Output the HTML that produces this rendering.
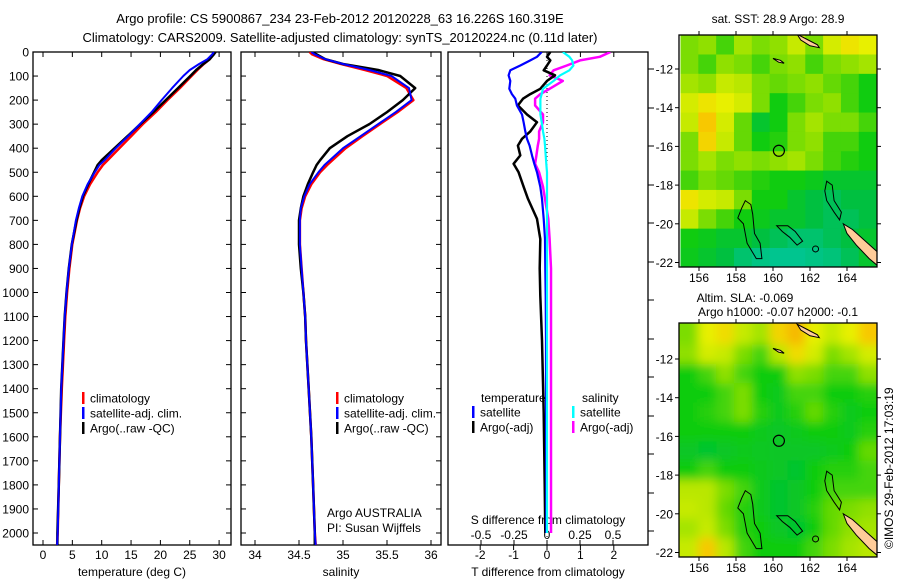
<!DOCTYPE html>
<html><head><meta charset="utf-8"><title>Argo profile</title>
<style>
html,body{margin:0;padding:0;background:#fff;}
svg{display:block;font-family:"Liberation Sans",sans-serif;}
text{fill:#000;}
</style></head>
<body>
<svg id="fig" width="900" height="580" viewBox="0 0 900 580" xmlns="http://www.w3.org/2000/svg">
<defs>
<clipPath id="clipP1"><rect x="33" y="52" width="198" height="493"/></clipPath>
<clipPath id="clipP2"><rect x="241" y="52" width="200" height="493"/></clipPath>
<clipPath id="clipP3"><rect x="448" y="52" width="200" height="493"/></clipPath>
<clipPath id="clipM1"><rect x="679" y="35" width="198" height="232"/></clipPath>
<clipPath id="clipM2"><rect x="679" y="323" width="198" height="234"/></clipPath>
<filter id="blurF" x="-10%" y="-10%" width="120%" height="120%"><feGaussianBlur stdDeviation="5"/></filter>
</defs>
<text x="340" y="23" font-size="13" text-anchor="middle">Argo profile: CS 5900867_234 23-Feb-2012 20120228_63 16.226S 160.319E</text>
<text x="340" y="42" font-size="13" text-anchor="middle">Climatology: CARS2009. Satellite-adjusted climatology: synTS_20120224.nc (0.11d later)</text>
<g id="g1"></g>
<g id="g2"></g>
<g id="g3"></g>
<g id="m1"></g>
<g id="m2"></g>
<text transform="translate(893,549) rotate(-90)" font-size="12">©IMOS 29-Feb-2012 17:03:19</text>
</svg>
<script>
// ---- profile data ----
const depths = [0,10,30,50,75,100,150,200,250,300,350,400,450,470,500,550,600,650,700,800,900,1000,1100,1200,1400,1600,1800,2000,2050];
const tempClim = [29.3,29.0,28.4,27.4,26.3,25.3,23.3,21.2,19.2,17.0,15.0,13.0,11.0,10.2,9.3,8.0,7.0,6.3,5.8,5.0,4.5,4.1,3.8,3.6,3.2,2.9,2.7,2.5,2.4];
const tempSat = [29.1,28.8,28.0,26.6,25.0,23.9,22.0,20.2,18.5,16.5,14.5,12.4,10.5,9.6,8.8,7.6,6.7,6.1,5.6,4.9,4.4,4.0,3.7,3.5,3.1,2.9,2.7,2.5,2.4];
const tempArgo = [29.4,29.1,28.4,27.3,26.1,25.1,23.0,20.9,18.8,16.6,14.4,12.2,10.0,9.3,8.7,7.7,6.8,6.2,5.7,4.9,4.4,4.0,3.7,3.5,3.1,2.9,2.7,2.45,2.45];
const salClim = [34.62,34.65,34.78,34.98,35.25,35.5,35.72,35.8,35.62,35.42,35.22,35.03,34.88,34.82,34.74,34.64,34.57,34.53,34.51,34.51,34.53,34.55,34.57,34.58,34.61,34.64,34.66,34.68,34.69];
const salSat = [34.64,34.68,34.8,35.0,35.3,35.55,35.75,35.78,35.6,35.4,35.2,35.0,34.85,34.79,34.72,34.62,34.56,34.52,34.51,34.51,34.53,34.55,34.57,34.58,34.61,34.64,34.66,34.68,34.69];
const salArgo = [34.65,34.7,34.8,35.0,35.4,35.65,35.82,35.68,35.5,35.3,35.05,34.85,34.74,34.7,34.66,34.6,34.55,34.52,34.5,34.5,34.52,34.55,34.57,34.58,34.61,34.64,34.66,34.68,34.68];
const diffDepths = [0,20,35,56,76,97,120,153,175,194,222,260,292,330,361,389,430,465,500,560,611,694,778,900,1014,1200,1500,1800,2000];
const dTempArgo = [0.1,0.0,0.1,0.0,-0.1,0.24,0.0,-0.2,-0.5,-0.72,-0.87,-0.6,-0.3,-0.5,-0.75,-0.87,-0.8,-1.0,-0.85,-0.7,-0.57,-0.3,-0.2,-0.22,-0.2,-0.15,-0.1,-0.07,-0.05];
const dTempSat = [-0.16,-0.3,-0.5,-0.8,-1.1,-1.15,-1.1,-1.13,-1.05,-0.95,-0.9,-0.75,-0.7,-0.65,-0.6,-0.52,-0.45,-0.38,-0.3,-0.2,-0.15,-0.1,-0.06,-0.05,-0.04,-0.03,-0.03,-0.02,-0.02];
const dSalArgo = [0.48,0.4,0.25,0.15,0.05,0.02,0.12,0.02,-0.05,-0.09,-0.09,-0.03,-0.03,-0.06,-0.06,-0.07,-0.08,-0.09,-0.06,-0.03,-0.015,0.01,0.02,0.03,0.03,0.03,0.03,0.03,0.03];
const dSalSat = [0.12,0.17,0.19,0.2,0.17,0.1,0.05,-0.03,-0.04,-0.05,-0.05,-0.05,-0.04,-0.03,-0.02,-0.015,-0.01,-0.005,0,0,0,0,0,0,0,0,0,0,0];
const depthTicks = [0,100,200,300,400,500,600,700,800,900,1000,1100,1200,1300,1400,1500,1600,1700,1800,1900,2000];
const tempTicks = [0,5,10,15,20,25,30];
const salTicks = [34,34.5,35,35.5,36];
const salTickLabels = ["34","34.5","35","35.5","36"];
const tdTicks = [-2,-1,0,1,2];
const sdTicks = [-0.5,-0.25,0,0.25,0.5];
const sdTickLabels = ["-0.5","-0.25","0","0.25","0.5"];
// ---- map data (rows: lat -10.25 .. -22.25 by 1 deg; cols: lon 155 .. 165.6) ----
const sstGrid = [
[0.6,0.62,0.55,0.65,0.6,0.62,0.7,0.6,0.72,0.78,0.75],
[0.6,0.55,0.62,0.6,0.55,0.6,0.62,0.55,0.6,0.62,0.65],
[0.65,0.62,0.7,0.68,0.6,0.58,0.6,0.62,0.58,0.55,0.5],
[0.72,0.78,0.75,0.72,0.6,0.5,0.55,0.6,0.62,0.55,0.5],
[0.7,0.85,0.72,0.58,0.45,0.5,0.6,0.65,0.6,0.6,0.55],
[0.6,0.82,0.7,0.58,0.5,0.52,0.6,0.62,0.55,0.55,0.5],
[0.6,0.65,0.6,0.62,0.6,0.62,0.65,0.6,0.55,0.52,0.5],
[0.55,0.6,0.58,0.55,0.52,0.5,0.5,0.48,0.45,0.45,0.45],
[0.78,0.72,0.7,0.6,0.5,0.5,0.45,0.42,0.4,0.42,0.42],
[0.7,0.6,0.55,0.5,0.48,0.45,0.45,0.42,0.4,0.4,0.42],
[0.5,0.48,0.45,0.45,0.42,0.4,0.38,0.38,0.4,0.42,0.45],
[0.48,0.45,0.42,0.38,0.36,0.35,0.35,0.36,0.37,0.4,0.45]];
const slaGrid = [
[0.6,0.75,0.8,0.7,0.65,0.82,0.88,0.75,0.7,0.75,0.85],
[0.62,0.72,0.7,0.6,0.55,0.68,0.8,0.72,0.6,0.65,0.72],
[0.5,0.55,0.62,0.55,0.5,0.5,0.62,0.6,0.55,0.55,0.62],
[0.5,0.5,0.55,0.6,0.5,0.48,0.55,0.55,0.5,0.5,0.52],
[0.5,0.52,0.55,0.6,0.52,0.48,0.52,0.58,0.52,0.48,0.5],
[0.5,0.5,0.5,0.5,0.48,0.46,0.48,0.5,0.5,0.48,0.52],
[0.46,0.45,0.46,0.48,0.47,0.46,0.46,0.46,0.48,0.5,0.58],
[0.5,0.55,0.5,0.5,0.48,0.46,0.45,0.5,0.52,0.52,0.55],
[0.68,0.68,0.6,0.55,0.48,0.45,0.46,0.5,0.55,0.55,0.55],
[0.7,0.68,0.58,0.52,0.48,0.45,0.46,0.52,0.58,0.6,0.62],
[0.65,0.7,0.6,0.52,0.5,0.46,0.45,0.5,0.58,0.62,0.65],
[0.7,0.85,0.68,0.55,0.5,0.5,0.5,0.55,0.6,0.65,0.68]];
const lonTicks = [156,158,160,162,164];
const latTicks = [-12,-14,-16,-18,-20,-22];

const NS = "http://www.w3.org/2000/svg";
function mk(parent, tag, attrs, txt) {
  const e = document.createElementNS(NS, tag);
  for (const k in attrs) e.setAttribute(k, attrs[k]);
  if (txt !== undefined) e.textContent = txt;
  parent.appendChild(e);
  return e;
}
const yD = d => 52 + d * 0.2405;
const TOP = 52, BOT = 545;

function frame(g, x0, x1, name) {
  const r = mk(g, 'rect', {x:x0, y:TOP, width:x1-x0, height:BOT-TOP, fill:'none', stroke:'#000', 'stroke-width':1.3});
  
  
}
function depthTickMarks(g, x0, x1, labels) {
  depthTicks.forEach(d => {
    const y = yD(d);
    mk(g, 'line', {x1:x0, y1:y, x2:x0+5, y2:y, stroke:'#000'});
    mk(g, 'line', {x1:x1, y1:y, x2:x1-5, y2:y, stroke:'#000'});
    if (labels) {
      const t = mk(g, 'text', {x:x0-4, y:y+4.5, 'font-size':12, 'text-anchor':'end'}, String(d));
      
      
    }
  });
}
function series(g, ys, xs, xf, color, w, name, clip) {
  const pts = ys.map((d,i) => xf(xs[i]).toFixed(1) + ',' + yD(d).toFixed(1)).join(' ');
  const p = mk(g, 'polyline', {points:pts, fill:'none', stroke:color, 'stroke-width':w, 'clip-path':'url(#'+clip+')', 'stroke-linejoin':'round'});
  
  
}
function legend(g, x, y, color, label, name) {
  const lg = mk(g, 'g', {});
  
  
  mk(lg, 'rect', {x:x, y:y-6, width:2.5, height:12, fill:color});
  mk(lg, 'text', {x:x+8, y:y+4.5, 'font-size':12}, label);
}

// Panel 1 temperature
const g1 = document.getElementById('g1');
const xT = v => 43 + v * 5.87;
frame(g1, 33, 231, 'temperature-frame');
depthTickMarks(g1, 33, 231, true);
tempTicks.forEach(v => {
  mk(g1, 'line', {x1:xT(v), y1:BOT, x2:xT(v), y2:BOT-5, stroke:'#000'});
  mk(g1, 'line', {x1:xT(v), y1:TOP, x2:xT(v), y2:TOP+5, stroke:'#000'});
  const t = mk(g1, 'text', {x:xT(v), y:559, 'font-size':12, 'text-anchor':'middle'}, String(v));
  
  
});
(function(){const t = mk(g1, 'text', {x:132, y:576, 'font-size':12, 'text-anchor':'middle'}, 'temperature (deg C)');

})();
series(g1, depths, tempClim, xT, '#ff0000', 2.5, 'temperature-climatology-line', 'clipP1');
series(g1, depths, tempArgo, xT, '#000000', 2.5, 'temperature-argo-line', 'clipP1');
series(g1, depths, tempSat, xT, '#0000ff', 2, 'temperature-satellite-line', 'clipP1');
legend(g1, 82, 398, '#ff0000', 'climatology', 'legend-climatology');
legend(g1, 82, 413, '#0000ff', 'satellite-adj. clim.', 'legend-satellite');
legend(g1, 82, 428, '#000000', 'Argo(..raw -QC)', 'legend-argo');

// Panel 2 salinity
const g2 = document.getElementById('g2');
const xS = v => 255 + (v - 34) * 88;
frame(g2, 241, 441, 'salinity-frame');
depthTickMarks(g2, 241, 441, false);
salTicks.forEach((v,i) => {
  mk(g2, 'line', {x1:xS(v), y1:BOT, x2:xS(v), y2:BOT-5, stroke:'#000'});
  mk(g2, 'line', {x1:xS(v), y1:TOP, x2:xS(v), y2:TOP+5, stroke:'#000'});
  const t = mk(g2, 'text', {x:xS(v), y:559, 'font-size':12, 'text-anchor':'middle'}, salTickLabels[i]);
  
  
});
(function(){const t = mk(g2, 'text', {x:341, y:576, 'font-size':12, 'text-anchor':'middle'}, 'salinity');

})();
series(g2, depths, salClim, xS, '#ff0000', 2.5, 'salinity-climatology-line', 'clipP2');
series(g2, depths, salArgo, xS, '#000000', 2.5, 'salinity-argo-line', 'clipP2');
series(g2, depths, salSat, xS, '#0000ff', 2, 'salinity-satellite-line', 'clipP2');
legend(g2, 336, 398, '#ff0000', 'climatology', 'legend-climatology-2');
legend(g2, 336, 413, '#0000ff', 'satellite-adj. clim.', 'legend-satellite-2');
legend(g2, 336, 428, '#000000', 'Argo(..raw -QC)', 'legend-argo-2');
(function(){
const t1 = mk(g2, 'text', {x:327, y:517, 'font-size':12}, 'Argo AUSTRALIA');


const t2 = mk(g2, 'text', {x:327, y:532, 'font-size':12}, 'PI: Susan Wijffels');

})();

// Panel 3 differences
const g3 = document.getElementById('g3');
const xTD = v => 547 + v * 33.4;
const xSD = v => 547 + v * 132;
frame(g3, 448, 648, 'difference-frame');
mk(g3, 'line', {x1:547, y1:TOP, x2:547, y2:BOT, stroke:'#000', 'stroke-dasharray':'1,3'});
[69,108,146,185,223,262,300,339,377,416,454,493,531].forEach(y => {
  mk(g3, 'line', {x1:648, y1:y, x2:654, y2:y, stroke:'#000'});
});
tdTicks.forEach(v => {
  mk(g3, 'line', {x1:xTD(v), y1:BOT, x2:xTD(v), y2:BOT+5, stroke:'#000'});
  mk(g3, 'line', {x1:xTD(v), y1:TOP, x2:xTD(v), y2:TOP+5, stroke:'#000'});
  const t = mk(g3, 'text', {x:xTD(v), y:559, 'font-size':12, 'text-anchor':'middle'}, String(v));
  
  
});
sdTicks.forEach((v,i) => {
  mk(g3, 'line', {x1:xSD(v), y1:BOT, x2:xSD(v), y2:BOT-5, stroke:'#000'});
  const t = mk(g3, 'text', {x:xSD(v), y:539, 'font-size':12, 'text-anchor':'middle'}, sdTickLabels[i]);
  
  
});
(function(){
const t1 = mk(g3, 'text', {x:548, y:576, 'font-size':12, 'text-anchor':'middle'}, 'T difference from climatology');


const t2 = mk(g3, 'text', {x:548, y:524, 'font-size':12, 'text-anchor':'middle'}, 'S difference from climatology');

})();
series(g3, diffDepths, dSalArgo, xSD, '#ff00ff', 2.5, 'sdiff-argo-line', 'clipP3');
series(g3, diffDepths, dTempArgo, xTD, '#000000', 2.5, 'tdiff-argo-line', 'clipP3');
series(g3, diffDepths, dTempSat, xTD, '#0000ff', 2.2, 'tdiff-satellite-line', 'clipP3');
series(g3, diffDepths, dSalSat, xSD, '#00ffff', 2.2, 'sdiff-satellite-line', 'clipP3');
(function(){
const t1 = mk(g3, 'text', {x:481, y:402, 'font-size':12}, 'temperature');


const t2 = mk(g3, 'text', {x:582, y:402, 'font-size':12}, 'salinity');

})();
legend(g3, 472, 412, '#0000ff', 'satellite', 'legend-tdiff-satellite');
legend(g3, 472, 427, '#000000', 'Argo(-adj)', 'legend-tdiff-argo');
legend(g3, 572, 412, '#00ffff', 'satellite', 'legend-sdiff-satellite');
legend(g3, 572, 427, '#ff00ff', 'Argo(-adj)', 'legend-sdiff-argo');

// ---- maps ----
const cstops = [[0,[0,0,140]],[0.15,[0,80,255]],[0.3,[0,200,200]],[0.42,[0,192,64]],[0.5,[16,204,16]],[0.62,[144,224,0]],[0.75,[232,240,0]],[0.85,[248,200,0]],[1,[240,120,0]]];
function cmap(v) {
  for (let i=1;i<cstops.length;i++) {
    if (v <= cstops[i][0]) {
      const a = cstops[i-1], b = cstops[i], f = (v-a[0])/(b[0]-a[0]);
      const c = a[1].map((x,k)=>Math.round(x+(b[1][k]-x)*f));
      return 'rgb('+c.join(',')+')';
    }
  }
  return 'rgb(240,120,0)';
}
function drawMap(gid, grid, y12, top, bot, clipId, blur, name) {
  const g = document.getElementById(gid);
  const xL = lon => 699 + (lon - 156) * 18.5;
  const yL = lat => y12 + (-12 - lat) * 19.35;
  const cg = mk(g, 'g', {'clip-path':'url(#'+clipId+')'});
  const inner = mk(cg, 'g', blur ? {filter:'url(#blurF)'} : {});
  const ncol = grid[0].length, nrow = grid.length;
  const lon0 = 155, dlon = 10.6 / ncol, lat0 = -10.25;
  grid.forEach((row, r) => row.forEach((v, c) => {
    const x0 = xL(lon0 + c*dlon), x1 = xL(lon0 + (c+1)*dlon);
    const ya = yL(lat0 - r), yb = yL(lat0 - r - 1);
    const pad = blur ? 12 : 0;
    const ex = c === 0 ? pad : 0, ex2 = c === ncol-1 ? pad : 0;
    const ey = r === 0 ? pad : 0, ey2 = r === nrow-1 ? pad : 0;
    const cell = mk(inner, 'rect', {x:x0-ex, y:ya-ey, width:x1-x0+0.6+ex+ex2, height:yb-ya+0.6+ey+ey2, fill:cmap(v)});
    
    
  }));
  const P = pts => pts.map(p => xL(p[0]).toFixed(1)+','+yL(p[1]).toFixed(1)).join(' ');
  mk(cg, 'polygon', {points:P([[161.3,-10.2],[161.8,-10.45],[162.4,-10.75],[162.5,-10.9],[162.0,-10.8],[161.5,-10.5]]), fill:'#ffcc99', stroke:'#000', 'stroke-width':1});
  mk(cg, 'polygon', {points:P([[160.0,-11.45],[160.4,-11.55],[160.6,-11.7],[160.3,-11.65]]), fill:'#ffcc99', stroke:'#000', 'stroke-width':1});
  mk(cg, 'polygon', {points:P([[163.8,-20.0],[164.3,-20.3],[165.0,-20.9],[165.7,-21.5],[165.7,-22.2],[165.2,-21.8],[164.5,-21.1],[164.0,-20.5]]), fill:'#ffcc99', stroke:'#000', 'stroke-width':1});
  mk(cg, 'polygon', {points:P([[158.5,-18.8],[158.8,-19.0],[158.9,-19.5],[159.0,-20.5],[159.3,-21.0],[159.4,-21.8],[159.1,-21.8],[158.6,-21.0],[158.4,-20.0],[158.1,-19.7],[158.3,-19.2]]), fill:'none', stroke:'#000', 'stroke-width':1});
  mk(cg, 'polygon', {points:P([[160.2,-20.1],[160.8,-20.1],[161.2,-20.4],[161.6,-20.9],[161.3,-21.1],[160.9,-20.7],[160.5,-20.4]]), fill:'none', stroke:'#000', 'stroke-width':1});
  mk(cg, 'polygon', {points:P([[162.9,-17.8],[163.2,-18.0],[163.3,-18.8],[163.7,-19.4],[163.6,-19.8],[163.3,-19.4],[162.9,-18.8],[162.8,-18.3]]), fill:'none', stroke:'#000', 'stroke-width':1});
  mk(cg, 'circle', {cx:xL(162.3), cy:yL(-21.3), r:3, fill:'none', stroke:'#000'});
  const pc = mk(cg, 'circle', {cx:xL(160.319), cy:yL(-16.226), r:5.5, fill:'none', stroke:'#000', 'stroke-width':1.2});
  
  
  const fr = mk(g, 'rect', {x:679, y:top, width:198, height:bot-top, fill:'none', stroke:'#000', 'stroke-width':1.3});
  
  
  lonTicks.forEach(lon => {
    mk(g, 'line', {x1:xL(lon), y1:top, x2:xL(lon), y2:top-4, stroke:'#000'});
    mk(g, 'line', {x1:xL(lon), y1:bot, x2:xL(lon), y2:bot+4, stroke:'#000'});
    const t = mk(g, 'text', {x:xL(lon), y:bot+15, 'font-size':12, 'text-anchor':'middle'}, String(lon));
    
    
  });
  latTicks.forEach(lat => {
    mk(g, 'line', {x1:679, y1:yL(lat), x2:675, y2:yL(lat), stroke:'#000'});
    mk(g, 'line', {x1:877, y1:yL(lat), x2:881, y2:yL(lat), stroke:'#000'});
    const t = mk(g, 'text', {x:673, y:yL(lat)+4.5, 'font-size':12, 'text-anchor':'end'}, String(lat));
    
    
  });
}
drawMap('m1', sstGrid, 69, 35, 267, 'clipM1', false, 'sst-map');
drawMap('m2', slaGrid, 359, 323, 557, 'clipM2', true, 'sla-map');
(function(){
const m1 = document.getElementById('m1'), m2 = document.getElementById('m2');
const t1 = mk(m1, 'text', {x:778, y:23, 'font-size':12, 'text-anchor':'middle'}, 'sat. SST: 28.9 Argo: 28.9');


const t2 = mk(m2, 'text', {x:745, y:302, 'font-size':12, 'text-anchor':'middle'}, 'Altim. SLA: -0.069');


const t3 = mk(m2, 'text', {x:778, y:316, 'font-size':12, 'text-anchor':'middle'}, 'Argo h1000: -0.07 h2000: -0.1');

})();
</script>
</body></html>
